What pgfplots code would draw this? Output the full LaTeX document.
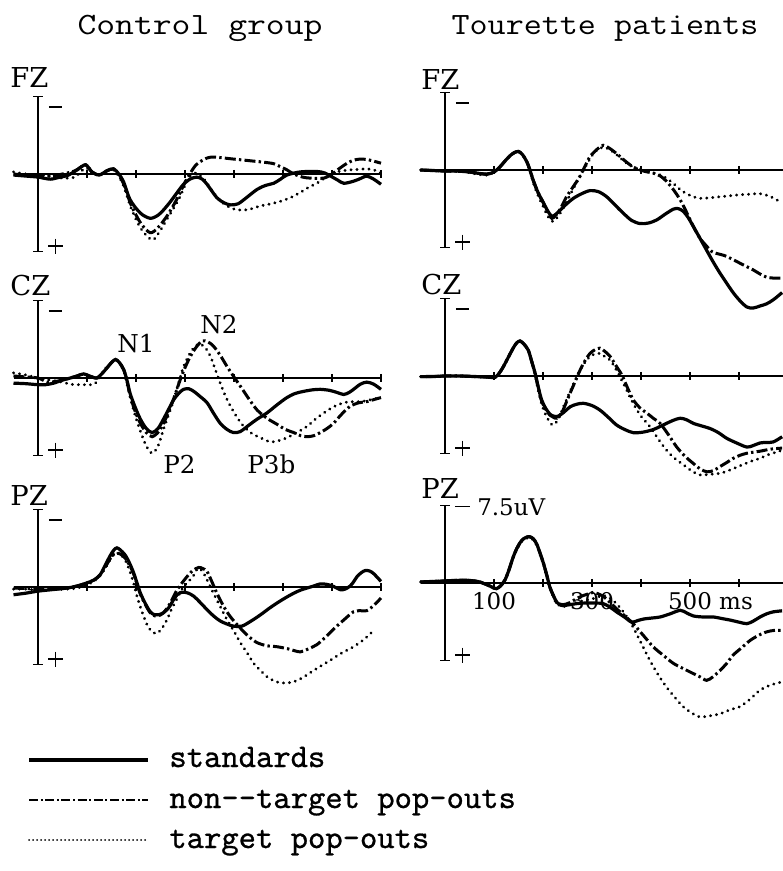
\documentclass[border=0pt]{standalone}
\usepackage{pgfplots}
\pgfplotsset{compat=1.18}
\usepackage{fontspec}
\newfontfamily\lblfont{DejaVu Serif}
\newfontfamily\legfont[Extension=.otf, FakeBold=0.8]{lmmono10-regular}

\tikzset{
  axln/.style={black, line width=0.7pt},
  std/.style={black, line width=1.6pt},
  ntg/.style={black, line width=1.5pt, dash pattern=on 5.5pt off 1.6pt on 1.2pt off 1.6pt},
  tgt/.style={black, line width=1.5pt, line cap=round, dash pattern=on 0.1pt off 2.9pt},
}
\pgfplotsset{erp/.style={hide axis, clip=false, x=0.245pt, y=5.15pt, y dir=reverse,
  xmin=-50, xmax=700, ymin=-7.5, ymax=7.5, anchor=south west,
  every axis plot/.append style={smooth}}}

% baseline, y axis with caps, 100 ms ticks
\newcommand\erpframe{%
  \draw[axln] (axis cs:-50,0) -- (axis cs:700,0);
  \draw[axln] (axis cs:0,-7.5) -- (axis cs:0,7.5);
  \draw[axln] (axis cs:-10,-7.5) -- (axis cs:10,-7.5);
  \draw[axln] (axis cs:-10,7.5) -- (axis cs:10,7.5);
  \pgfplotsinvokeforeach{100,200,300,400,500,600,700}{\draw[axln] (axis cs:##1,-0.4) -- (axis cs:##1,0.4);}
  \draw[axln] (axis cs:21,7.0) -- (axis cs:51,7.0);
  \draw[axln] (axis cs:36,6.27) -- (axis cs:36,7.73);
}
\newcommand\erpminus{\draw[axln] (axis cs:22,-6.5) -- (axis cs:49,-6.5);}

\begin{document}
\begin{tikzpicture}
\path[use as bounding box] (0pt,0pt) rectangle (391pt,-435.5pt);

% titles
\node[anchor=base, inner sep=0] at (100pt,-17.5pt) {\scalebox{1.18}[1]{\ttfamily\fontsize{15.5pt}{16pt}\selectfont Control group}};
\node[anchor=base, inner sep=0] at (302.5pt,-17.5pt) {\scalebox{1.13}[1]{\ttfamily\fontsize{15.5pt}{16pt}\selectfont Tourette patients}};

% electrode labels
\begin{scope}[every node/.style={anchor=base west, inner sep=0, font=\lblfont\fontsize{13.7pt}{14pt}\selectfont}]
\node at (5pt,-44pt) {FZ};  \node at (5pt,-147.5pt) {CZ};  \node at (5pt,-252.5pt) {PZ};
\node at (210.5pt,-45pt) {FZ}; \node at (210.5pt,-147pt) {CZ}; \node at (210.5pt,-249pt) {PZ};
\end{scope}

% ---------------- Control group, FZ
\begin{axis}[erp, at={(6.75pt,-125.625pt)}]
\erpframe\erpminus
\addplot[tgt] coordinates {(-50,-0.2) (-25,0.0) (0,0.1) (25,0.2) (50,0.4) (75,0.3) (97,-0.6) (110,-0.1) (125,0.1) (140,-0.3) (154,-0.4) (165,0.2) (175,1.2) (190,3.3) (210,5.3) (233,6.4) (248,5.6) (263,4.4) (277,3.3) (290,2.2) (300,1.1) (311,0.2) (322,-0.1) (335,0.3) (345,0.9) (358,1.8) (372,2.6) (386,3.1) (400,3.4) (413,3.5) (430,3.45) (454,3.1) (475,2.9) (495,2.65) (515,2.3) (535,1.8) (552,1.3) (569,0.9) (585,0.4) (603,-0.1) (620,-0.3) (637,-0.4) (655,-0.45) (671,-0.5) (685,-0.4) (700,-0.1)};
\addplot[ntg] coordinates {(-50,0.0) (-25,0.1) (0,0.1) (25,0.2) (50,0.0) (75,-0.3) (97,-0.9) (110,-0.2) (125,0.1) (140,-0.3) (154,-0.5) (165,0.1) (175,1.0) (190,3.0) (210,4.8) (229,5.7) (245,5.2) (263,4.1) (277,3.0) (290,1.8) (300,0.8) (311,-0.1) (321,-0.8) (331,-1.2) (345,-1.55) (358,-1.65) (380,-1.55) (399,-1.45) (420,-1.35) (440,-1.25) (460,-1.15) (481,-1.0) (495,-0.7) (508,-0.4) (522,0.0) (540,0.3) (556,0.4) (583,0.4) (595,0.15) (603,-0.1) (617,-0.6) (631,-1.05) (645,-1.35) (658,-1.45) (672,-1.4) (685,-1.25) (700,-1.05)};
\addplot[std] coordinates {(-50,0.1) (-25,0.2) (0,0.3) (25,0.5) (45,0.3) (60,0.15) (80,-0.4) (97,-0.9) (110,-0.2) (125,0.1) (140,-0.3) (154,-0.5) (165,0.0) (175,0.8) (188,2.5) (209,3.8) (229,4.3) (245,4.0) (256,3.5) (270,2.7) (284,1.8) (297,1.0) (310,0.5) (324,0.3) (335,0.5) (345,1.0) (365,2.3) (380,2.8) (393,3.0) (408,2.9) (420,2.5) (447,1.5) (465,1.1) (481,0.9) (495,0.5) (508,0.1) (535,-0.2) (569,-0.25) (585,-0.1) (597,0.2) (612,0.6) (624,0.9) (644,0.7) (660,0.4) (671,0.2) (685,0.5) (700,1.0)};
\end{axis}

% ---------------- Control group, CZ
\begin{axis}[erp, at={(6.75pt,-227.625pt)}]
\erpframe\erpminus
\addplot[tgt] coordinates {(-50,-0.5) (-25,-0.3) (0,0.0) (25,0.2) (50,0.4) (65,0.6) (80,0.65) (100,0.65) (115,0.6) (125,0.0) (135,-0.8) (150,-1.5) (158,-1.8) (166,-1.5) (175,-0.7) (182,0.6) (190,2.2) (200,3.9) (210,5.3) (221,6.6) (233,7.3) (245,6.6) (256,5.0) (267,3.5) (277,2.1) (287,0.5) (297,-1.1) (309,-2.3) (321,-3.1) (331,-3.3) (342,-2.9) (352,-2.1) (362,-0.8) (372,0.5) (383,1.8) (393,2.75) (406,3.8) (420,4.7) (437,5.4) (454,5.8) (474,6.2) (490,6.1) (508,5.8) (528,5.3) (549,4.7) (566,4.0) (583,3.4) (603,2.8) (624,2.4) (640,2.3) (658,2.3) (680,2.1) (700,1.9)};
\addplot[ntg] coordinates {(-50,-0.2) (-25,-0.1) (0,0.0) (20,0.4) (40,0.3) (66,0.0) (80,-0.2) (93,-0.4) (105,-0.2) (120,0.0) (132,-0.5) (141,-1.0) (150,-1.5) (158,-1.8) (166,-1.5) (175,-0.8) (182,0.4) (188,1.7) (198,3.2) (209,4.4) (221,5.3) (233,5.7) (248,5.1) (263,3.7) (277,2.0) (290,0.2) (300,-1.0) (311,-2.1) (323,-3.0) (335,-3.6) (347,-3.5) (358,-3.1) (372,-2.2) (386,-1.1) (400,-0.1) (413,0.8) (430,2.0) (447,3.1) (467,3.9) (488,4.5) (505,5.0) (522,5.3) (536,5.6) (549,5.7) (563,5.6) (576,5.3) (590,4.9) (603,4.4) (620,3.5) (637,2.75) (655,2.4) (671,2.3) (685,2.1) (700,1.9)};
\addplot[std] coordinates {(-50,0.5) (-25,0.55) (0,0.65) (15,0.65) (32,0.5) (50,0.2) (66,0.0) (80,-0.2) (93,-0.4) (105,-0.2) (120,0.0) (132,-0.5) (141,-1.0) (150,-1.5) (158,-1.8) (166,-1.5) (175,-0.8) (182,0.3) (188,1.5) (198,2.8) (209,4.0) (221,4.9) (233,5.3) (245,4.9) (256,4.0) (267,3.0) (277,2.1) (287,1.5) (297,1.1) (308,1.05) (318,1.3) (331,1.8) (345,2.4) (358,3.4) (372,4.4) (386,5.0) (399,5.3) (413,5.2) (427,4.7) (447,4.0) (467,3.4) (488,2.6) (508,1.9) (525,1.5) (542,1.3) (560,1.15) (576,1.1) (595,1.2) (610,1.4) (624,1.6) (635,1.4) (644,1.1) (658,0.6) (671,0.4) (685,0.6) (700,1.1)};
\end{axis}

% ---------------- Control group, PZ
\begin{axis}[erp, at={(6.75pt,-332.125pt)}]
\erpframe\erpminus
\addplot[tgt] coordinates {(-50,0.2) (-25,0.2) (0,0.3) (30,0.25) (59,0.2) (80,0.1) (100,-0.2) (115,-0.6) (127,-1.1) (138,-1.9) (148,-2.7) (155,-3.2) (161,-3.3) (168,-3.2) (178,-2.6) (187,-1.6) (195,-0.4) (202,0.9) (213,2.5) (225,3.9) (235,4.4) (243,4.5) (253,4.0) (263,3.2) (273,2.1) (284,1.1) (294,0.2) (304,-0.4) (316,-1.0) (326,-1.8) (336,-1.5) (348,-0.4) (358,0.6) (372,1.9) (386,3.2) (400,4.3) (413,5.4) (427,6.4) (440,7.4) (454,8.1) (467,8.7) (481,9.1) (495,9.3) (510,9.3) (522,9.2) (540,8.8) (556,8.3) (576,7.7) (597,7.1) (620,6.4) (644,5.8) (665,5.1) (688,4.1)};
\addplot[ntg] coordinates {(-50,0.1) (-25,0.15) (0,0.2) (30,0.2) (59,0.1) (80,-0.1) (100,-0.4) (115,-0.7) (127,-1.2) (138,-2.0) (148,-2.8) (155,-3.2) (161,-3.3) (168,-3.2) (178,-2.8) (187,-2.1) (195,-1.3) (202,-0.3) (209,0.7) (219,1.7) (229,2.5) (238,2.8) (246,2.8) (256,2.5) (267,1.8) (277,0.9) (284,0.26) (294,-0.4) (304,-1.0) (316,-1.6) (328,-1.9) (336,-1.8) (345,-1.5) (355,-0.5) (365,0.6) (378,1.8) (392,2.85) (413,4.0) (430,4.8) (447,5.4) (467,5.7) (488,5.8) (510,6.0) (535,6.3) (552,6.0) (569,5.6) (586,4.9) (603,4.1) (624,3.2) (644,2.4) (658,2.3) (671,2.3) (685,1.8) (700,1.07)};
\addplot[std] coordinates {(-50,0.75) (-25,0.6) (0,0.4) (30,0.25) (59,0.1) (80,-0.1) (100,-0.4) (115,-0.7) (127,-1.2) (138,-2.2) (148,-3.1) (155,-3.6) (161,-3.8) (168,-3.6) (178,-3.1) (187,-2.3) (195,-1.4) (202,-0.4) (209,0.6) (219,1.6) (229,2.4) (238,2.7) (246,2.7) (256,2.5) (267,2.0) (277,1.2) (284,0.75) (290,0.55) (297,0.5) (307,0.6) (318,0.9) (331,1.5) (345,2.2) (358,2.8) (372,3.3) (386,3.6) (399,3.8) (416,3.8) (435,3.3) (454,2.7) (471,2.1) (488,1.55) (505,1.05) (522,0.6) (536,0.3) (549,0.1) (563,-0.1) (576,-0.3) (590,-0.25) (603,-0.06) (617,0.26) (627,0.2) (637,-0.1) (644,-0.5) (651,-1.0) (660,-1.4) (668,-1.6) (677,-1.55) (685,-1.3) (693,-0.9) (700,-0.55)};
\end{axis}

% ---------------- Tourette patients, FZ
\begin{axis}[erp, at={(210.25pt,-123.625pt)}]
\erpframe\erpminus
\addplot[tgt] coordinates {(-50,0.0) (-25,0.05) (0,0.1) (20,0.1) (44,0.2) (65,0.4) (85,0.5) (100,0.2) (112,-0.3) (123,-0.9) (133,-1.4) (142,-1.7) (150,-1.8) (158,-1.5) (167,-0.8) (174,0.2) (180,1.2) (190,2.5) (201,3.6) (210,4.5) (221,5.0) (235,4.2) (248,3.1) (262,1.8) (279,0.3) (290,-0.6) (300,-1.4) (312,-2.0) (323,-2.2) (336,-2.0) (350,-1.5) (367,-0.8) (384,-0.3) (405,0.1) (425,0.3) (445,0.6) (466,1.3) (480,1.9) (493,2.3) (507,2.6) (520,2.75) (540,2.7) (561,2.6) (582,2.5) (602,2.4) (622,2.35) (643,2.3) (665,2.6) (688,3.2)};
\addplot[ntg] coordinates {(-50,0.0) (-25,0.05) (0,0.1) (20,0.1) (44,0.16) (65,0.3) (85,0.4) (100,0.2) (112,-0.3) (123,-0.9) (133,-1.4) (142,-1.7) (150,-1.8) (158,-1.5) (167,-0.8) (174,0.1) (180,1.0) (190,2.2) (201,3.2) (210,4.2) (218,4.7) (226,4.4) (235,3.8) (248,2.6) (262,1.6) (275,0.65) (286,-0.4) (296,-1.3) (310,-2.0) (323,-2.4) (336,-2.1) (350,-1.6) (367,-0.9) (384,-0.3) (405,0.1) (425,0.3) (440,0.6) (452,1.1) (466,1.9) (480,2.9) (494,4.2) (507,5.5) (520,6.6) (534,7.4) (544,7.9) (554,8.1) (570,8.3) (588,8.7) (608,9.2) (629,9.7) (643,10.1) (656,10.4) (672,10.5) (688,10.5)};
\addplot[std] coordinates {(-50,0.0) (-25,0.05) (0,0.1) (20,0.1) (44,0.16) (65,0.3) (85,0.4) (100,0.2) (112,-0.3) (123,-0.9) (133,-1.4) (142,-1.7) (150,-1.8) (158,-1.5) (167,-0.8) (174,0.1) (180,1.0) (190,2.2) (201,3.2) (210,4.0) (218,4.5) (226,4.3) (235,3.9) (248,3.3) (262,2.75) (279,2.3) (296,2.0) (313,2.1) (330,2.6) (347,3.4) (364,4.2) (381,4.9) (398,5.2) (415,5.15) (432,4.85) (449,4.3) (466,3.8) (476,3.75) (486,4.0) (496,4.6) (507,5.5) (520,6.6) (534,7.8) (547,8.9) (561,10.0) (575,11.0) (588,11.9) (602,12.7) (616,13.3) (629,13.4) (643,13.2) (656,13.0) (670,12.6) (688,11.9)};
\end{axis}

% ---------------- Tourette patients, CZ
\begin{axis}[erp, at={(210.25pt,-226.625pt)}]
\erpframe\erpminus
\addplot[tgt] coordinates {(-50,0.06) (-25,0.05) (0,0.0) (30,0.0) (60,0.05) (85,0.1) (102,0.13) (111,-0.3) (119,-0.9) (129,-1.8) (139,-2.7) (146,-3.2) (153,-3.4) (161,-3.1) (170,-2.5) (177,-1.4) (184,-0.1) (190,1.3) (197,2.7) (205,3.7) (214,4.5) (221,4.75) (230,4.3) (240,3.2) (248,2.3) (262,0.8) (276,-0.6) (288,-1.5) (299,-2.0) (308,-2.15) (316,-2.2) (326,-1.9) (337,-1.55) (347,-0.8) (357,0.06) (370,1.3) (384,2.65) (400,3.9) (418,4.9) (435,6.1) (452,7.2) (469,8.0) (486,8.6) (503,9.2) (520,9.6) (540,9.55) (561,9.45) (575,9.25) (588,9.0) (608,8.6) (629,8.2) (643,8.0) (656,7.7) (672,7.45) (688,7.2)};
\addplot[ntg] coordinates {(-50,0.06) (-25,0.05) (0,0.0) (30,0.0) (60,0.05) (85,0.1) (102,0.13) (111,-0.3) (119,-0.9) (129,-1.8) (139,-2.7) (146,-3.2) (153,-3.4) (161,-3.1) (170,-2.5) (177,-1.4) (184,-0.2) (190,1.1) (197,2.4) (205,3.2) (214,3.8) (221,4.0) (228,4.1) (238,3.6) (248,2.5) (255,1.7) (265,0.6) (276,-0.6) (286,-1.5) (296,-2.2) (306,-2.55) (316,-2.7) (326,-2.4) (337,-1.9) (349,-1.0) (361,-0.1) (372,1.1) (384,2.3) (398,3.1) (412,3.6) (425,4.1) (439,4.6) (456,5.7) (473,6.9) (490,7.8) (507,8.5) (520,9.0) (534,9.3) (547,9.2) (561,8.8) (575,8.4) (588,8.0) (602,7.7) (616,7.5) (629,7.4) (643,7.3) (665,7.1) (688,7.0)};
\addplot[std] coordinates {(-50,0.06) (-25,0.05) (0,0.0) (30,0.0) (60,0.05) (85,0.1) (102,0.13) (111,-0.3) (119,-0.9) (129,-1.8) (139,-2.7) (146,-3.2) (153,-3.4) (161,-3.1) (170,-2.5) (177,-1.4) (184,-0.26) (190,1.0) (197,2.3) (205,3.1) (214,3.7) (222,3.9) (231,3.9) (243,3.5) (255,3.0) (268,2.75) (282,2.65) (299,2.85) (316,3.3) (333,4.0) (350,4.75) (367,5.2) (384,5.5) (404,5.45) (425,5.2) (439,4.9) (452,4.6) (466,4.3) (480,4.1) (493,4.25) (507,4.6) (524,4.85) (541,5.1) (558,5.5) (575,6.05) (595,6.5) (616,6.9) (629,6.75) (643,6.5) (656,6.45) (670,6.4) (688,5.9)};
\end{axis}

% ---------------- Tourette patients, PZ
\begin{axis}[erp, at={(210.25pt,-330.125pt)}]
\erpframe
\draw[axln] (axis cs:20,-7.4) -- (axis cs:51,-7.4);
\node[anchor=west, inner sep=0, font=\lblfont\fontsize{11.5pt}{12pt}\selectfont] at (axis cs:65,-7.4) {7.5uV};
\node[anchor=north, inner sep=0, font=\lblfont\fontsize{11.5pt}{12pt}\selectfont] at (axis cs:100,0.87) {100};
\node[anchor=north, inner sep=0, font=\lblfont\fontsize{11.5pt}{12pt}\selectfont] at (axis cs:300,0.87) {300};
\node[anchor=north, inner sep=0, font=\lblfont\fontsize{11.5pt}{12pt}\selectfont] at (axis cs:500,0.87) {500\rlap{ ms}};
\addplot[tgt] coordinates {(-50,-0.1) (-25,-0.15) (0,-0.2) (20,-0.25) (44,-0.26) (60,-0.2) (71,-0.1) (82,0.1) (92,0.3) (100,0.5) (105,0.55) (113,0.3) (122,-0.26) (130,-1.2) (139,-2.4) (147,-3.3) (156,-4.0) (164,-4.3) (172,-4.4) (180,-4.2) (187,-3.7) (194,-2.8) (201,-1.8) (208,-0.6) (214,0.5) (221,1.3) (228,2.0) (241,2.3) (255,2.1) (269,1.9) (283,1.7) (296,1.6) (310,1.4) (323,1.2) (337,1.5) (350,2.0) (367,3.0) (384,4.3) (401,5.9) (418,7.5) (435,8.9) (452,10.1) (469,11.1) (486,12.0) (503,12.6) (520,13.0) (540,12.9) (561,12.7) (582,12.3) (602,12.0) (622,11.3) (643,10.4) (665,9.9) (688,9.6)};
\addplot[ntg] coordinates {(-50,-0.1) (-25,-0.15) (0,-0.2) (20,-0.25) (44,-0.26) (60,-0.2) (71,-0.1) (82,0.1) (92,0.3) (100,0.5) (105,0.55) (113,0.3) (122,-0.26) (130,-1.2) (139,-2.5) (147,-3.4) (156,-4.1) (164,-4.4) (172,-4.5) (180,-4.3) (187,-3.8) (194,-2.9) (201,-1.9) (208,-0.7) (214,0.4) (221,1.2) (228,1.9) (241,2.1) (255,1.9) (269,1.5) (283,1.2) (296,1.0) (303,0.9) (310,1.0) (323,1.3) (337,1.9) (350,2.5) (367,3.2) (384,3.95) (405,5.1) (425,6.2) (445,7.0) (466,7.8) (486,8.3) (507,8.8) (520,9.1) (534,9.45) (547,9.1) (561,8.5) (575,7.8) (588,7.0) (605,6.3) (622,5.6) (639,5.1) (656,4.75) (672,4.6) (688,4.6)};
\addplot[std] coordinates {(-50,-0.1) (-25,-0.15) (0,-0.2) (20,-0.25) (44,-0.26) (60,-0.2) (71,-0.1) (82,0.1) (92,0.3) (100,0.5) (105,0.55) (113,0.3) (122,-0.26) (130,-1.2) (139,-2.5) (147,-3.4) (156,-4.1) (164,-4.4) (172,-4.5) (180,-4.3) (187,-3.8) (194,-2.9) (201,-1.9) (208,-0.7) (214,0.4) (221,1.2) (228,1.85) (236,2.15) (241,2.2) (255,2.1) (269,2.0) (283,1.95) (296,1.95) (310,1.95) (323,2.0) (337,2.35) (350,2.8) (366,3.3) (381,3.8) (393,3.65) (405,3.5) (422,3.4) (439,3.3) (459,3.0) (480,2.65) (493,2.9) (507,3.2) (527,3.3) (548,3.3) (565,3.45) (582,3.6) (600,3.8) (616,3.95) (629,3.7) (643,3.3) (656,3.0) (670,2.8) (688,2.7)};
\end{axis}

% component labels
\begin{scope}[every node/.style={anchor=base west, inner sep=0, font=\lblfont\fontsize{12.3pt}{13pt}\selectfont}]
\node at (58.5pt,-176pt) {N1};
\node at (100pt,-166.5pt) {N2};
\node at (81.5pt,-236.5pt) {P2};
\node at (123.5pt,-236.5pt) {P3b};
\end{scope}

% legend
\draw[std] (14.5pt,-380pt) -- (74pt,-380pt);
\draw[black, line width=1.4pt, dash pattern=on 4.5pt off 1.3pt on 1pt off 1.3pt] (14.5pt,-400pt) -- (74pt,-400pt);
\draw[black, line width=0.9pt, line cap=round, dash pattern=on 0.1pt off 1.9pt] (14.5pt,-420pt) -- (74pt,-420pt);
\begin{scope}[every node/.style={anchor=base west, inner sep=0, font=\legfont\fontsize{16.5pt}{17pt}\selectfont}]
\node at (84.5pt,-383.5pt) {standards};
\node at (84.5pt,-404pt) {non-{}-target pop-outs};
\node at (84.5pt,-424pt) {target pop-outs};
\end{scope}
\end{tikzpicture}
\end{document}
